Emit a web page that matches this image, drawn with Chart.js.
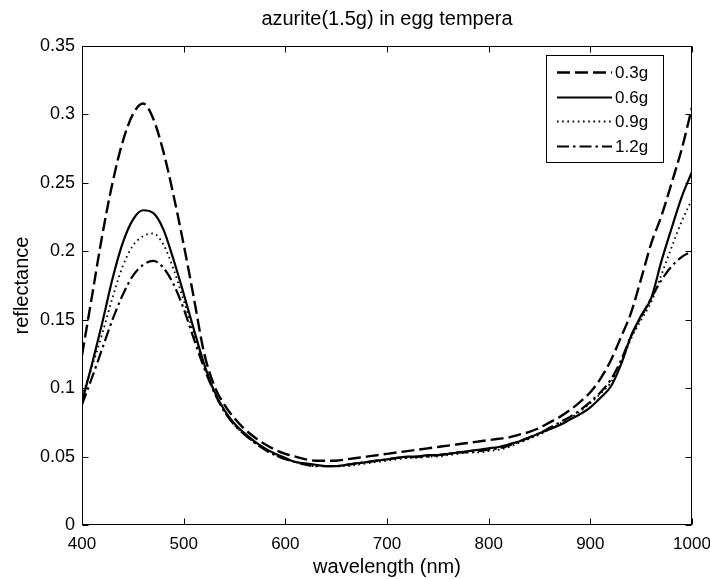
<!DOCTYPE html>
<html>
<head>
<meta charset="utf-8">
<title>azurite(1.5g) in egg tempera</title>
<script src="https://cdn.jsdelivr.net/npm/chart.js@4.4.0/dist/chart.umd.min.js"></script>
<style>
  html, body { margin: 0; padding: 0; background: #fff; }
  #wrap { width: 710px; height: 579px; }
</style>
</head>
<body>
<div id="wrap"><canvas id="c" width="710" height="579"></canvas></div>
<script>
// Wavelength samples (nm)
const wavelengths = [
  400, 410, 420, 430, 440, 450, 460, 470, 480, 490,
  500, 510, 520, 530, 540, 550, 560, 570, 580, 590,
  600, 610, 620, 630, 640, 650, 660, 670, 680, 690,
  700, 710, 720, 730, 740, 750, 760, 770, 780, 790,
  800, 810, 820, 830, 840, 850, 860, 870, 880, 890,
  900, 910, 920, 930, 940, 950, 960, 970, 980, 990,
  1000
];

// Reflectance for each binder amount
const refl03 = [
  0.124, 0.168, 0.212, 0.250, 0.280, 0.300, 0.308, 0.297, 0.273, 0.241,
  0.205, 0.166, 0.126, 0.102, 0.088, 0.078, 0.070, 0.064, 0.059, 0.055,
  0.052, 0.050, 0.048, 0.047, 0.047, 0.047, 0.048, 0.049, 0.050, 0.051,
  0.052, 0.053, 0.054, 0.055, 0.056, 0.057, 0.058, 0.059, 0.060, 0.061,
  0.062, 0.063, 0.064, 0.066, 0.068, 0.071, 0.075, 0.079, 0.084, 0.090,
  0.097, 0.107, 0.120, 0.137, 0.155, 0.180, 0.206, 0.226, 0.250, 0.275,
  0.305
];
const refl06 = [
  0.090, 0.118, 0.148, 0.180, 0.206, 0.223, 0.230, 0.228, 0.216, 0.194,
  0.169, 0.143, 0.118, 0.098, 0.084, 0.074, 0.067, 0.061, 0.056, 0.052,
  0.049, 0.046, 0.045, 0.044, 0.043, 0.043, 0.044, 0.045, 0.046, 0.047,
  0.048, 0.049, 0.050, 0.050, 0.051, 0.051, 0.052, 0.053, 0.054, 0.055,
  0.056, 0.057, 0.059, 0.061, 0.064, 0.067, 0.070, 0.073, 0.077, 0.081,
  0.086, 0.093, 0.101, 0.117, 0.138, 0.153, 0.166, 0.193, 0.217, 0.240,
  0.258
];
const refl09 = [
  0.094, 0.116, 0.140, 0.166, 0.189, 0.204, 0.211, 0.213, 0.205, 0.187,
  0.164, 0.140, 0.117, 0.097, 0.083, 0.073, 0.066, 0.060, 0.055, 0.051,
  0.048, 0.046, 0.044, 0.043, 0.043, 0.043, 0.043, 0.044, 0.045, 0.046,
  0.047, 0.048, 0.049, 0.049, 0.050, 0.050, 0.051, 0.052, 0.053, 0.053,
  0.054, 0.055, 0.057, 0.060, 0.063, 0.066, 0.070, 0.074, 0.078, 0.083,
  0.089, 0.096, 0.104, 0.118, 0.136, 0.150, 0.163, 0.183, 0.203, 0.222,
  0.238
];
const refl12 = [
  0.088, 0.108, 0.129, 0.150, 0.168, 0.182, 0.190, 0.193, 0.188, 0.176,
  0.158, 0.136, 0.115, 0.097, 0.083, 0.073, 0.066, 0.060, 0.055, 0.051,
  0.048, 0.046, 0.044, 0.043, 0.043, 0.043, 0.044, 0.045, 0.046, 0.047,
  0.048, 0.049, 0.049, 0.050, 0.050, 0.051, 0.052, 0.053, 0.053, 0.054,
  0.055, 0.056, 0.058, 0.061, 0.064, 0.067, 0.071, 0.075, 0.079, 0.084,
  0.090, 0.097, 0.106, 0.120, 0.138, 0.152, 0.166, 0.179, 0.189, 0.196,
  0.200
];

const seriesNames = ['0.3g', '0.6g', '0.9g', '1.2g'];

// Axis ticks
const xTicks = [400, 500, 600, 700, 800, 900, 1000];
const xTickLabels = ['400', '500', '600', '700', '800', '900', '1000'];
const yTicks = [0, 0.05, 0.1, 0.15, 0.2, 0.25, 0.3, 0.35];
const yTickLabels = ['0', '0.05', '0.1', '0.15', '0.2', '0.25', '0.3', '0.35'];

const FONT = '"Liberation Sans", Arial, Helvetica, sans-serif';
const INK = '#000';

const toPoints = ys => wavelengths.map((x, i) => ({ x: x, y: ys[i] }));

const lineStyles = [
  { dash: [13, 5], width: 2.4 },
  { dash: [], width: 2.2 },
  { dash: [1.6, 3.6], width: 1.8 },
  { dash: [12, 4, 2.5, 4], width: 2.2 }
];

const datasets = [refl03, refl06, refl09, refl12].map((ys, i) => ({
  label: seriesNames[i],
  data: toPoints(ys),
  borderColor: INK,
  backgroundColor: INK,
  borderWidth: lineStyles[i].width,
  borderDash: lineStyles[i].dash,
  pointRadius: 0,
  fill: false,
  cubicInterpolationMode: 'monotone'
}));

// Title above the plot
const titlePlugin = {
  id: 'plotTitle',
  afterDraw(chart) {
    const { ctx, chartArea: a } = chart;
    ctx.save();
    ctx.fillStyle = INK;
    ctx.font = '20px ' + FONT;
    ctx.textAlign = 'center';
    ctx.textBaseline = 'middle';
    ctx.fillText('azurite(1.5g) in egg tempera', (a.left + a.right) / 2, 19);
    ctx.restore();
  }
};

// Box around the axes with inward tick marks on all four sides
const framePlugin = {
  id: 'frameBox',
  afterDatasetsDraw(chart) {
    const { ctx, chartArea: a, scales: { x, y } } = chart;
    const L = Math.round(a.left) + 0.5, R = Math.round(a.right) - 0.5;
    const T = Math.round(a.top) + 0.5, B = Math.round(a.bottom) - 0.5;
    const len = 6;
    ctx.save();
    ctx.strokeStyle = INK;
    ctx.lineWidth = 1;
    ctx.setLineDash([]);
    ctx.strokeRect(L, T, R - L, B - T);
    ctx.beginPath();
    xTicks.forEach(v => {
      const px = Math.round(x.getPixelForValue(v)) + 0.5;
      ctx.moveTo(px, B); ctx.lineTo(px, B - len);
      ctx.moveTo(px, T); ctx.lineTo(px, T + len);
    });
    yTicks.forEach(v => {
      const py = Math.round(y.getPixelForValue(v)) + 0.5;
      ctx.moveTo(L, py); ctx.lineTo(L + len, py);
      ctx.moveTo(R, py); ctx.lineTo(R - len, py);
    });
    ctx.stroke();
    ctx.restore();
  }
};

// Legend box in the upper right corner of the plot
const legendPlugin = {
  id: 'insetLegend',
  afterDraw(chart) {
    const { ctx } = chart;
    const box = { x: 546.5, y: 55.5, w: 117, h: 107 };
    const rowY = [72, 97, 121, 146];
    ctx.save();
    ctx.fillStyle = '#fff';
    ctx.fillRect(box.x, box.y, box.w, box.h);
    ctx.strokeStyle = INK;
    ctx.lineWidth = 1;
    ctx.setLineDash([]);
    ctx.strokeRect(box.x, box.y, box.w, box.h);
    chart.data.datasets.forEach((ds, i) => {
      const yy = rowY[i] + 0.5;
      ctx.beginPath();
      ctx.setLineDash(ds.borderDash);
      ctx.lineWidth = ds.borderWidth;
      ctx.strokeStyle = ds.borderColor;
      ctx.moveTo(557, yy);
      ctx.lineTo(612, yy);
      ctx.stroke();
      ctx.setLineDash([]);
      ctx.fillStyle = INK;
      ctx.font = '17px ' + FONT;
      ctx.textAlign = 'left';
      ctx.textBaseline = 'middle';
      ctx.fillText(ds.label, 615, rowY[i] + 1);
    });
    ctx.restore();
  }
};

new Chart(document.getElementById('c'), {
  type: 'line',
  data: { datasets: datasets },
  options: {
    responsive: false,
    animation: false,
    devicePixelRatio: 1,
    layout: { padding: { top: 46, right: 18, bottom: 0, left: 0 } },
    plugins: {
      legend: { display: false },
      title: { display: false },
      tooltip: { enabled: false }
    },
    scales: {
      x: {
        type: 'linear',
        min: 400,
        max: 1000,
        grid: { display: false, drawTicks: false },
        border: { display: false },
        afterBuildTicks: s => { s.ticks = xTicks.map(v => ({ value: v })); },
        afterFit: s => { s.height = 54; s.paddingLeft = 0; s.paddingRight = 0; },
        ticks: {
          color: INK,
          font: { family: FONT, size: 17 },
          padding: 9,
          maxRotation: 0,
          autoSkip: false,
          callback: (v, i) => xTickLabels[i]
        },
        title: {
          display: true,
          text: 'wavelength (nm)',
          color: INK,
          font: { family: FONT, size: 20 },
          padding: { top: 0, bottom: 0 }
        }
      },
      y: {
        type: 'linear',
        min: 0,
        max: 0.35,
        grid: { display: false, drawTicks: false },
        border: { display: false },
        afterBuildTicks: s => { s.ticks = yTicks.map(v => ({ value: v })); },
        afterFit: s => { s.width = 82; s.paddingTop = 0; s.paddingBottom = 0; },
        ticks: {
          color: INK,
          font: { family: FONT, size: 18 },
          padding: 7,
          autoSkip: false,
          callback: (v, i) => yTickLabels[i]
        },
        title: {
          display: true,
          text: 'reflectance',
          color: INK,
          font: { family: FONT, size: 20 },
          padding: { top: 10, bottom: 0 }
        }
      }
    }
  },
  plugins: [framePlugin, legendPlugin, titlePlugin]
});
</script>
</body>
</html>
